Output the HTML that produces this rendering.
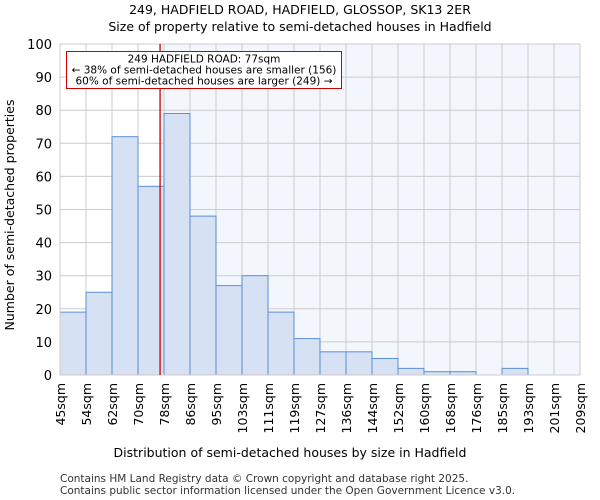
<!DOCTYPE html>
<html><head><meta charset="utf-8"><style>
body{margin:0;background:#fff;}
svg{display:block;font-family:"DejaVu Sans","Liberation Sans",sans-serif;}
</style></head><body>
<svg id="chart" width="600" height="500" viewBox="0 0 600 500">
<text x="300" y="14" text-anchor="middle" font-size="12.5">249, HADFIELD ROAD, HADFIELD, GLOSSOP, SK13 2ER</text>
<text x="300" y="31" text-anchor="middle" font-size="12.5">Size of property relative to semi-detached houses in Hadfield</text>
<g id="plot"></g>
<text x="290" y="457" text-anchor="middle" font-size="12.5">Distribution of semi-detached houses by size in Hadfield</text>
<text transform="translate(14,215) rotate(-90)" text-anchor="middle" font-size="12.5">Number of semi-detached properties</text>
<text x="60" y="482" font-size="10.5" fill="#333">Contains HM Land Registry data © Crown copyright and database right 2025.</text>
<text x="60" y="494" font-size="10.5" fill="#333">Contains public sector information licensed under the Open Government Licence v3.0.</text>
</svg>
<script>
const categories=["45sqm","54sqm","62sqm","70sqm","78sqm","86sqm","95sqm","103sqm","111sqm","119sqm","127sqm","136sqm","144sqm","152sqm","160sqm","168sqm","176sqm","185sqm","193sqm","201sqm","209sqm"];
const counts=[19,25,72,57,79,48,27,30,19,11,7,7,5,2,1,1,0,2,0,0];
const yTicks=[0,10,20,30,40,50,60,70,80,90,100];
const propertyValue=77;
const binStarts=[45,53.5,61.75,70,78.25,86.5,94.75,103,111.25,119.5,127.75,136,144.25,152.5,160.75,169,177.25,185.5,193.75,202,210.25];
const NS="http://www.w3.org/2000/svg";
const L=60,R=580,T=44,B=375,yMax=100;
const n=counts.length,bw=(R-L)/n;
const xi=i=>L+i*bw;
const y=v=>B-(B-T)*v/yMax;
function xv(v){let i=0;while(i<n-1&&v>binStarts[i+1])i++;return xi(i)+bw*(v-binStarts[i])/(binStarts[i+1]-binStarts[i]);}
const g=document.getElementById('plot');
function mk(t,a){const e=document.createElementNS(NS,t);for(const k in a)e.setAttribute(k,a[k]);g.appendChild(e);return e;}
const px=xv(propertyValue);
let e=mk('rect',{x:px,y:T,width:R-px,height:B-T,fill:'#f3f6fd'});


yTicks.forEach(t=>{let l=mk('line',{x1:L,x2:R,y1:y(t),y2:y(t),stroke:'#cccccc','stroke-width':1});


let tx=mk('text',{x:L-8,y:y(t)+5,'text-anchor':'end','font-size':13});tx.textContent=t;

});
categories.forEach((c,i)=>{let l=mk('line',{x1:xi(i),x2:xi(i),y1:T,y2:B,stroke:'#cccccc','stroke-width':1});


let tx=mk('text',{transform:`translate(${xi(i)+5},${B+8}) rotate(-90)`,'text-anchor':'end','font-size':12.5});tx.textContent=c;

});
counts.forEach((v,i)=>{let r=mk('rect',{x:xi(i),y:y(v),width:bw,height:B-y(v),fill:'#d6e1f3',stroke:'#5b8fd6','stroke-width':1});

});
e=mk('rect',{x:L,y:T,width:R-L,height:B-T,fill:'none',stroke:'#cccccc'});


e=mk('line',{x1:px,x2:px,y1:T,y2:B,stroke:'#cc0000','stroke-width':1.3});


e=mk('rect',{x:66.5,y:51.5,width:275,height:37,fill:'#fff',stroke:'#cc0000','stroke-width':1});


["249 HADFIELD ROAD: 77sqm","← 38% of semi-detached houses are smaller (156)","60% of semi-detached houses are larger (249) →"].forEach((s,i)=>{
let t=mk('text',{x:204,y:62.5+i*11,'text-anchor':'middle','font-size':10.5});t.textContent=s;

});
</script>
</body></html>
